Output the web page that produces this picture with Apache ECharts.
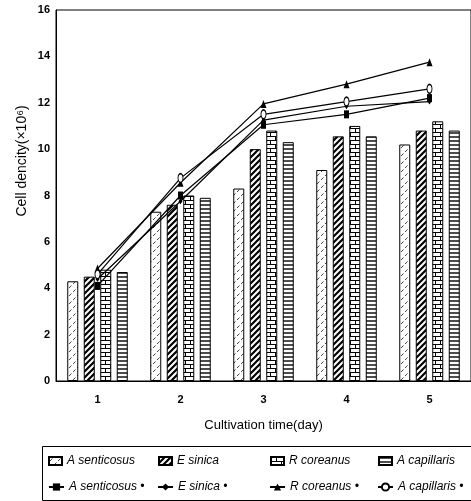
<!DOCTYPE html>
<html><head><meta charset="utf-8">
<script src="https://cdn.jsdelivr.net/npm/echarts@6/dist/echarts.min.js"></script>
<style>html,body{margin:0;padding:0;background:#fff}#c{width:471px;height:501px}</style>
</head><body><div id="c"></div>
<script>
const days = ['1','2','3','4','5'];
const yTicks = [0,2,4,6,8,10,12,14,16];
const barSent = [4.3, 7.3, 8.3, 9.1, 10.2];
const barSin  = [4.5, 7.6, 10.0, 10.55, 10.8];
const barCor  = [4.8, 8.0, 10.8, 11.0, 11.2];
const barCap  = [4.7, 7.9, 10.3, 10.55, 10.8];
const lineSent = [4.1, 8.0, 11.05, 11.5, 12.2];
const lineSin  = [4.4, 7.75, 11.25, 11.85, 12.05];
const lineCor  = [4.85, 8.55, 11.95, 12.8, 13.75];
const lineCap  = [4.6, 8.75, 11.5, 12.05, 12.6];

function pat(w,h,draw){
  const c=document.createElement('canvas');c.width=w;c.height=h;
  const g=c.getContext('2d');g.fillStyle='#fff';g.fillRect(0,0,w,h);
  g.strokeStyle='#000';draw(g);return {image:c,repeat:'repeat'};
}
const pSent = pat(8,8,g=>{g.strokeStyle='#444';g.lineWidth=1;
  g.beginPath();g.moveTo(1,4);g.lineTo(3.5,1.5);g.moveTo(5,8);g.lineTo(7.5,5.5);g.stroke();});
const pSin = pat(6,6,g=>{g.lineWidth=2.2;g.beginPath();
  g.moveTo(-1,7);g.lineTo(7,-1);g.moveTo(-4,4);g.lineTo(4,-4);g.moveTo(2,10);g.lineTo(10,2);g.stroke();});
const pCor = pat(10,8,g=>{g.lineWidth=1;g.beginPath();
  g.moveTo(0,0.5);g.lineTo(10,0.5);g.moveTo(0,4.5);g.lineTo(10,4.5);
  g.moveTo(5.5,0);g.lineTo(5.5,4.5);g.moveTo(0.5,4.5);g.lineTo(0.5,8);g.stroke();});
const pCap = pat(4,4,g=>{g.lineWidth=1.4;g.beginPath();g.moveTo(0,1);g.lineTo(4,1);g.stroke();});

const FONT = 'Liberation Sans, Arial, sans-serif';
function bar(name, data, color){
  return {name, type:'bar', data, barWidth:11, barGap:'50%',
    itemStyle:{color, borderColor:'#000', borderWidth:1}, z:2};
}
function line(name, data, symbol, size){
  const empty = symbol==='emptyCircle';
  return {name, type:'line', data, symbol: empty?'circle':symbol, symbolSize:size,
    lineStyle:{color:'#000', width:1.2}, z:5,
    itemStyle:{color: empty?'#fff':'#000', borderColor:'#000', borderWidth: empty?1.2:0}};
}
function leg(name, left, top, w, h, icon){
  const o = {data:[name], left, top, itemWidth:w, itemHeight:h, padding:0, selectedMode:false,
    textStyle:{fontSize:12, fontStyle:'italic', color:'#000', fontFamily:FONT}};
  if(icon) o.icon = icon;
  return o;
}
const names = ['A senticosus','E sinica','R coreanus','A capillaris'];
const lnames = names.map(n=>n+' •');

const chart = echarts.init(document.getElementById('c'));
chart.setOption({
  animation:false,
  backgroundColor:'#fff',
  grid:{left:56, right:-2, top:10, bottom:120, show:true, borderColor:'#000', borderWidth:1},
  xAxis:{type:'category', data:days,
    axisLine:{lineStyle:{color:'#000', width:1}},
    axisTick:{inside:true, length:3, lineStyle:{color:'#000'}},
    axisLabel:{color:'#000', fontSize:11, fontWeight:'bold', fontFamily:FONT, margin:13},
    name:'Cultivation time(day)', nameLocation:'middle', nameGap:38,
    nameTextStyle:{color:'#000', fontSize:13, fontFamily:FONT}},
  yAxis:{type:'value', min:yTicks[0], max:yTicks[yTicks.length-1], interval:2,
    axisLine:{show:true, lineStyle:{color:'#000', width:1}},
    axisTick:{show:false}, splitLine:{show:false},
    axisLabel:{color:'#000', fontSize:11, fontWeight:'bold', fontFamily:FONT, margin:6}},
  legend:[
    leg(names[0], 48, 455, 13, 8, 'rect'), leg(names[1], 158, 455, 13, 8, 'rect'),
    leg(names[2], 270, 455, 13, 8, 'rect'), leg(names[3], 378, 455, 13, 8, 'rect'),
    leg(lnames[0], 48, 481, 15, 9), leg(lnames[1], 157, 481, 15, 9),
    leg(lnames[2], 269, 481, 15, 9), leg(lnames[3], 377, 481, 15, 9)
  ],
  graphic:[
    {type:'rect', shape:{x:42.5, y:446.5, width:440, height:54}, style:{fill:'none', stroke:'#000', lineWidth:1}, silent:true},
    {type:'text', x:22, y:161, rotation:Math.PI/2,
      style:{text:'Cell dencity(×10⁶)', fill:'#000', font:'14px '+FONT, textAlign:'center', textVerticalAlign:'middle'}}
  ],
  series:[
    bar(names[0], barSent, pSent), bar(names[1], barSin, pSin),
    bar(names[2], barCor, pCor), bar(names[3], barCap, pCap),
    line(lnames[0], lineSent, 'rect', [5,8]),
    line(lnames[1], lineSin, 'diamond', [4,6]),
    line(lnames[2], lineCor, 'triangle', [6,8]),
    line(lnames[3], lineCap, 'emptyCircle', [5,9])
  ]
});
</script></body></html>
